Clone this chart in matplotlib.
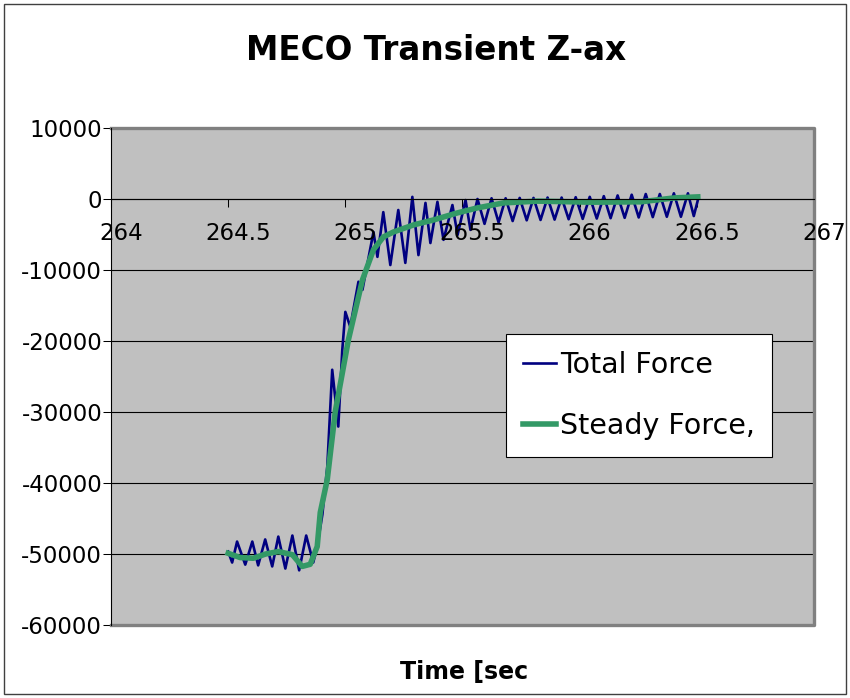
import matplotlib
matplotlib.use("Agg")
import matplotlib.pyplot as plt
import matplotlib.transforms as mtrans

# Total force: at the peaks and troughs of the ringing
total_t = [264.500, 264.517, 264.538, 264.573, 264.603, 264.628, 264.658, 264.688,
           264.714, 264.744, 264.774, 264.803, 264.833, 264.863, 264.880, 264.902,
           264.923, 264.944, 264.970, 264.987, 265.000, 265.021, 265.056, 265.073,
           265.085, 265.120, 265.137, 265.162, 265.192, 265.226, 265.256, 265.286,
           265.312, 265.342, 265.363, 265.393, 265.419, 265.457, 265.479, 265.513,
           265.534, 265.564, 265.594, 265.624, 265.654, 265.684, 265.714, 265.744,
           265.774, 265.803, 265.833, 265.863, 265.893, 265.923, 265.953, 265.983,
           266.013, 266.043, 266.073, 266.103, 266.132, 266.162, 266.192, 266.222,
           266.252, 266.282, 266.312, 266.342, 266.372, 266.402, 266.432, 266.462,
           266.487, 266.504]
total_f = [-49650, -51200, -48250, -51500, -48250, -51600, -47950, -51750,
           -47550, -52050, -47400, -52300, -47400, -51200, -48950, -44450,
           -37700, -24050, -32050, -21250, -15900, -18000, -11650, -12800,
           -10700, -4650, -8150, -1850, -9300, -1550, -9000, 300,
           -7900, -550, -6200, -400, -5750, -850, -5050, -150,
           -4350, 0, -3500, 100, -3300, 100, -3100, 150,
           -3000, 150, -2950, 200, -2900, 200, -2850, 250,
           -2800, 300, -2750, 400, -2700, 500, -2650, 600,
           -2600, 700, -2550, 700, -2500, 800, -2500, 800,
           -2400, -200]

# Steady force
steady_t = [264.500, 264.551, 264.607, 264.660, 264.714, 264.774, 264.816, 264.850,
            264.880, 264.893, 264.923, 264.957, 265.013, 265.073, 265.120, 265.162,
            265.205, 265.291, 265.376, 265.479, 265.564, 265.675, 265.821, 266.047,
            266.261, 266.402, 266.504]
steady_f = [-49900, -50500, -50600, -50000, -49650, -50100, -51750, -51450,
            -48950, -44150, -39500, -29950, -19850, -11400, -7150, -5350,
            -4650, -3650, -2950, -1950, -1250, -550, -300, -450,
            -400, 150, 300]

xticks = [264, 264.5, 265, 265.5, 266, 266.5, 267]
xtick_labels = ["264", "264.5", "265", "265.5", "266", "266.5", "267"]
yticks = [10000, 0, -10000, -20000, -30000, -40000, -50000, -60000]
ytick_labels = ["10000", "0", "-10000", "-20000", "-30000", "-40000", "-50000", "-60000"]

W, H = 850, 698
fig = plt.figure(figsize=(W / 100, H / 100), dpi=100)
ax = fig.add_axes([111 / W, 1 - 625 / H, (814 - 111) / W, (625 - 128) / H])
ax.set_facecolor("#c0c0c0")

ax.plot(total_t, total_f, color="#000080", lw=1.9, label="Total Force")
ax.plot(steady_t, steady_f, color="#339966", lw=4, label="Steady Force,")

ax.set_xlim(264, 267)
ax.set_ylim(-60000, 10000)

# y axis
ax.set_yticks(yticks, ytick_labels)
ax.tick_params(axis="y", direction="out", length=5.8, width=0.75, pad=0.5,
               labelsize=16.5, colors="black")
ax.yaxis.grid(True, color="black", lw=0.8)
ax.set_axisbelow(True)

# x axis crosses at 0, labels pushed to the right like Excel does
ax.spines["bottom"].set_position(("data", 0))
ax.spines["bottom"].set_linewidth(0.8)
ax.spines["left"].set_linewidth(0.8)
ax.spines["top"].set_visible(False)
ax.spines["right"].set_visible(False)
ax.set_xticks(xticks)
ax.tick_params(axis="x", direction="out", length=5.8, width=0.75, labelbottom=False)
shift = mtrans.ScaledTranslation(10 / 100, -35 / 100, fig.dpi_scale_trans)
for t, lab in zip(xticks, xtick_labels):
    ax.text(t, 0, lab, transform=ax.transData + shift, ha="center", va="center",
            fontsize=16.5, clip_on=False)

# gray plot-area border on top, right and bottom
ax.plot([0, 1, 1, 0], [1, 1, 0, 0], transform=ax.transAxes, color="#808080",
        lw=2.4, clip_on=False, solid_capstyle="projecting")

leg = ax.legend(loc="upper left", bbox_to_anchor=(506 / W, 1 - 334 / H),
                bbox_transform=fig.transFigure, borderaxespad=0, fontsize=20.5,
                handlelength=1.16, handletextpad=0.15, labelspacing=1.14,
                borderpad=0.6, fancybox=False, framealpha=1, edgecolor="black")
leg.get_frame().set_linewidth(0.8)

fig.text(436.5 / W, 1 - 50 / H, "MECO Transient Z-ax", ha="center", va="center",
         fontsize=23.5, fontweight="bold")
fig.text(464 / W, 1 - 672 / H, "Time [sec", ha="center", va="center",
         fontsize=17, fontweight="bold")

# outer chart frame
fig.add_artist(plt.Rectangle((4 / W, 4 / H), 842 / W, 690 / H, fill=False,
                             edgecolor="#404040", lw=1, transform=fig.transFigure))

fig.savefig("out.png", dpi=100)
